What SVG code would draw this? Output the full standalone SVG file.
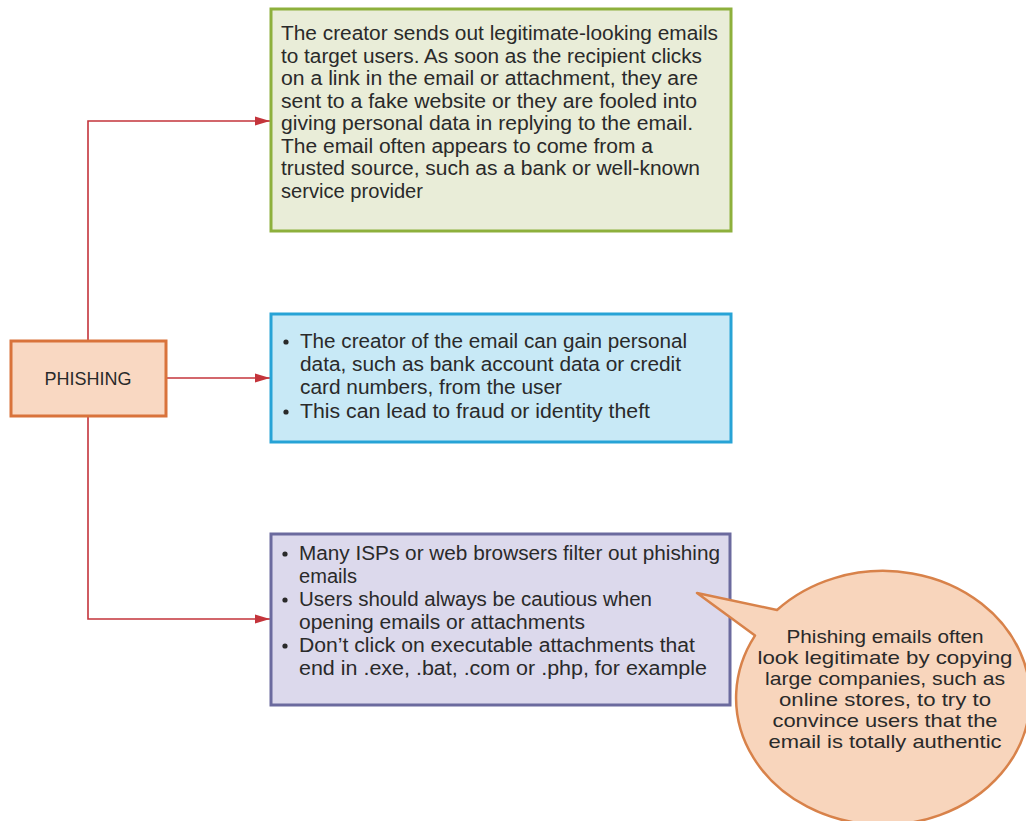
<svg xmlns="http://www.w3.org/2000/svg" width="1026" height="821" viewBox="0 0 1026 821">
<style>
.t{font-family:"Liberation Sans",Arial,sans-serif;font-size:19.5px;fill:#2a2a2a}
.b{font-family:"Liberation Sans",Arial,sans-serif;font-size:18.5px;fill:#2a2a2a;text-anchor:middle}
.p{font-family:"Liberation Sans",Arial,sans-serif;font-size:18px;fill:#2a2a2a;text-anchor:middle}
.conn{fill:none;stroke:#c4343b;stroke-width:1.6}
</style>
<defs>
<marker id="ah" markerUnits="userSpaceOnUse" markerWidth="16" markerHeight="10" refX="15" refY="5" orient="auto">
<path d="M0,0.5 L15,5 L0,9.5 Z" fill="#c4343b"/>
</marker>
</defs>
<rect width="1026" height="821" fill="#ffffff"/>
<g id="connectors">
<path class="conn" d="M88,340 V121 H270" marker-end="url(#ah)"/>
<path class="conn" d="M167,378 H270" marker-end="url(#ah)"/>
<path class="conn" d="M88,417 V619 H270" marker-end="url(#ah)"/>
</g>
<g id="phishing">
<rect x="11" y="341" width="155" height="75" fill="#f9d8c2" stroke="#d9733b" stroke-width="3"/>
<text class="p" x="88" y="385">PHISHING</text>
</g>
<g id="how-it-works">
<rect x="271" y="9" width="460" height="222" fill="#e9edd8" stroke="#8db03c" stroke-width="3"/>
<text class="t" x="281" y="40" textLength="437" lengthAdjust="spacingAndGlyphs">The creator sends out legitimate-looking emails</text>
<text class="t" x="281" y="62.5" textLength="421" lengthAdjust="spacingAndGlyphs">to target users. As soon as the recipient clicks</text>
<text class="t" x="281" y="85" textLength="417" lengthAdjust="spacingAndGlyphs">on a link in the email or attachment, they are</text>
<text class="t" x="281" y="107.5" textLength="416" lengthAdjust="spacingAndGlyphs">sent to a fake website or they are fooled into</text>
<text class="t" x="281" y="130" textLength="412" lengthAdjust="spacingAndGlyphs">giving personal data in replying to the email.</text>
<text class="t" x="281" y="152.5" textLength="372" lengthAdjust="spacingAndGlyphs">The email often appears to come from a</text>
<text class="t" x="281" y="175" textLength="419" lengthAdjust="spacingAndGlyphs">trusted source, such as a bank or well-known</text>
<text class="t" x="281" y="197.5" textLength="142" lengthAdjust="spacingAndGlyphs">service provider</text>
</g>
<g id="effects">
<rect x="271" y="314" width="460" height="128" fill="#c8e9f6" stroke="#27a3d6" stroke-width="3"/>
<circle cx="286" cy="342" r="2.6" fill="#2a2a2a"/>
<text class="t" x="300" y="348" textLength="387" lengthAdjust="spacingAndGlyphs">The creator of the email can gain personal</text>
<text class="t" x="300" y="371" textLength="381" lengthAdjust="spacingAndGlyphs">data, such as bank account data or credit</text>
<text class="t" x="300" y="394" textLength="262" lengthAdjust="spacingAndGlyphs">card numbers, from the user</text>
<circle cx="286" cy="412" r="2.6" fill="#2a2a2a"/>
<text class="t" x="300" y="418" textLength="350" lengthAdjust="spacingAndGlyphs">This can lead to fraud or identity theft</text>
</g>
<g id="prevention">
<rect x="271" y="534" width="459" height="171" fill="#dcd9ec" stroke="#6b6a9e" stroke-width="3"/>
<circle cx="285" cy="554" r="2.6" fill="#2a2a2a"/>
<text class="t" x="299" y="560" textLength="421" lengthAdjust="spacingAndGlyphs">Many ISPs or web browsers filter out phishing</text>
<text class="t" x="299" y="583" textLength="58" lengthAdjust="spacingAndGlyphs">emails</text>
<circle cx="285" cy="600" r="2.6" fill="#2a2a2a"/>
<text class="t" x="299" y="606" textLength="353" lengthAdjust="spacingAndGlyphs">Users should always be cautious when</text>
<text class="t" x="299" y="629" textLength="286" lengthAdjust="spacingAndGlyphs">opening emails or attachments</text>
<circle cx="285" cy="646" r="2.6" fill="#2a2a2a"/>
<text class="t" x="299" y="652" textLength="396" lengthAdjust="spacingAndGlyphs">Don’t click on executable attachments that</text>
<text class="t" x="299" y="675" textLength="408" lengthAdjust="spacingAndGlyphs">end in .exe, .bat, .com or .php, for example</text>
</g>
<g id="callout">
<path d="M755,635.6 L697,593 L777,610 A147 127 0 1 1 755,635.6 Z" fill="#f8d5bc" stroke="#d8824a" stroke-width="2.5" stroke-linejoin="round"/>
<text class="b" x="885" y="643" textLength="197" lengthAdjust="spacingAndGlyphs">Phishing emails often</text>
<text class="b" x="885" y="664" textLength="255" lengthAdjust="spacingAndGlyphs">look legitimate by copying</text>
<text class="b" x="885" y="685" textLength="240" lengthAdjust="spacingAndGlyphs">large companies, such as</text>
<text class="b" x="885" y="706" textLength="212" lengthAdjust="spacingAndGlyphs">online stores, to try to</text>
<text class="b" x="885" y="727" textLength="225" lengthAdjust="spacingAndGlyphs">convince users that the</text>
<text class="b" x="885" y="748" textLength="233" lengthAdjust="spacingAndGlyphs">email is totally authentic</text>
</g>
</svg>
